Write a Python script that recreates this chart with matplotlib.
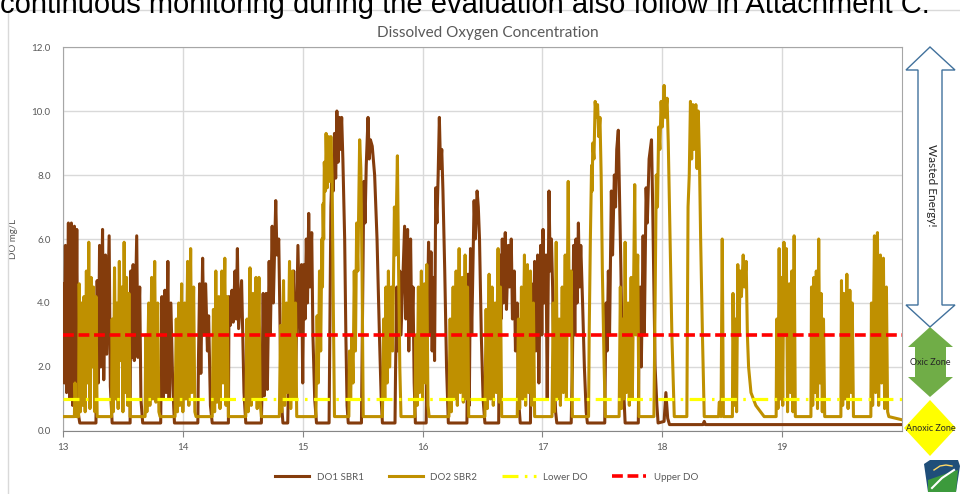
import matplotlib.pyplot as plt
from matplotlib.patches import Polygon

# ---- values ----
days = [13, 14, 15, 16, 17, 18, 19]
y_ticks = [0, 2, 4, 6, 8, 10, 12]
lower_do = 1.0
upper_do = 3.0
series_names = ['DO1 SBR1', 'DO2 SBR2', 'Lower DO', 'Upper DO']

# (day, DO mg/L)
do1_sbr1 = [
    (13.000, 4.6), (13.010, 1.5), (13.020, 5.8), (13.030, 1.2), (13.045, 6.5), (13.055, 1.0),
    (13.070, 6.5), (13.080, 0.8), (13.095, 6.4), (13.105, 1.2), (13.115, 6.3), (13.125, 0.6),
    (13.140, 0.25), (13.275, 0.25), (13.285, 4.7), (13.295, 1.5), (13.305, 5.8), (13.315, 2.0),
    (13.330, 6.3), (13.340, 1.6), (13.355, 5.5), (13.365, 2.4), (13.385, 6.1), (13.395, 1.4),
    (13.410, 0.25), (13.560, 0.25), (13.565, 5.0), (13.575, 2.3), (13.585, 5.2), (13.595, 2.2),
    (13.615, 6.1), (13.625, 2.3), (13.640, 4.5), (13.650, 1.0), (13.665, 0.25), (13.815, 0.25),
    (13.825, 4.2), (13.835, 1.0), (13.850, 4.4), (13.860, 1.2), (13.875, 5.3), (13.885, 1.0),
    (13.900, 4.0), (13.915, 1.5), (13.930, 0.25),
    (14.125, 0.25), (14.130, 2.2), (14.140, 4.6), (14.150, 1.8), (14.165, 5.4), (14.175, 3.0),
    (14.190, 4.6), (14.205, 2.5), (14.215, 3.6), (14.230, 0.8), (14.245, 0.25), (14.380, 0.25),
    (14.385, 4.2), (14.395, 3.3), (14.410, 4.4), (14.420, 3.4), (14.435, 5.0), (14.445, 3.5),
    (14.455, 5.7), (14.465, 3.2), (14.490, 4.7), (14.510, 1.2), (14.525, 0.25), (14.655, 0.25),
    (14.660, 1.2), (14.670, 4.3), (14.680, 1.1), (14.695, 4.3), (14.705, 1.3), (14.720, 5.3),
    (14.730, 3.0), (14.745, 6.4), (14.755, 4.0), (14.775, 7.2), (14.785, 5.5), (14.800, 6.0),
    (14.810, 3.5), (14.820, 1.0), (14.835, 0.25), (14.875, 0.25), (14.880, 1.2), (14.895, 4.9),
    (14.910, 2.6), (14.925, 5.0), (14.940, 1.4), (14.960, 5.8), (14.975, 3.0), (14.990, 5.2),
    (15.000, 1.5), (15.010, 5.2), (15.020, 3.5), (15.030, 6.0), (15.040, 4.0), (15.050, 6.8),
    (15.060, 4.5), (15.075, 6.2), (15.085, 3.0), (15.100, 1.0), (15.115, 0.25),
    (15.220, 0.25), (15.235, 7.0), (15.245, 8.3), (15.255, 7.5), (15.265, 9.3), (15.275, 7.9),
    (15.285, 10.0), (15.295, 8.4), (15.305, 9.8), (15.315, 8.8), (15.325, 9.8), (15.335, 8.5),
    (15.350, 6.0), (15.360, 3.0), (15.370, 0.8), (15.380, 0.25), (15.490, 0.25), (15.500, 4.0),
    (15.510, 7.8), (15.520, 6.5), (15.530, 8.3), (15.545, 9.8), (15.555, 8.5), (15.565, 9.1),
    (15.580, 8.9), (15.600, 8.0), (15.620, 6.0), (15.640, 3.0), (15.655, 1.0), (15.665, 0.25),
    (15.770, 0.25), (15.775, 2.0), (15.785, 4.5), (15.795, 2.5), (15.810, 5.0), (15.820, 3.0),
    (15.850, 6.4), (15.860, 3.5), (15.875, 6.3), (15.885, 2.5), (15.900, 6.0), (15.910, 3.0),
    (15.920, 4.5), (15.930, 1.5), (15.940, 0.25),
    (16.030, 0.25), (16.040, 3.5), (16.050, 5.9), (16.060, 3.0), (16.070, 5.6), (16.080, 2.5),
    (16.090, 4.8), (16.100, 2.2), (16.110, 7.6), (16.120, 6.5), (16.130, 8.0), (16.140, 9.8),
    (16.150, 8.2), (16.160, 8.8), (16.170, 7.5), (16.185, 5.0), (16.200, 2.0), (16.215, 0.25),
    (16.370, 0.25), (16.380, 4.9), (16.390, 0.8), (16.400, 5.7), (16.410, 3.0), (16.430, 7.2),
    (16.440, 6.0), (16.455, 7.5), (16.465, 7.0), (16.475, 6.0), (16.490, 3.0), (16.505, 1.0),
    (16.520, 0.25), (16.635, 0.25), (16.645, 5.5), (16.655, 3.5), (16.665, 6.0), (16.675, 4.0),
    (16.690, 6.2), (16.700, 3.8), (16.715, 5.8), (16.725, 4.5), (16.740, 6.0), (16.750, 3.5),
    (16.765, 5.0), (16.775, 2.5), (16.790, 4.0), (16.800, 1.0), (16.815, 0.25), (16.900, 0.25),
    (16.910, 4.6), (16.920, 1.3), (16.935, 5.3), (16.945, 2.5), (16.960, 5.5), (16.970, 1.5),
    (16.985, 5.8), (16.995, 3.0), (17.005, 6.3), (17.015, 4.0), (17.030, 5.5), (17.040, 1.0),
    (17.055, 7.5), (17.065, 5.0), (17.075, 6.0), (17.085, 4.5), (17.095, 2.0), (17.110, 0.6),
    (17.120, 0.25),
    (17.240, 0.25), (17.250, 2.0), (17.260, 5.8), (17.270, 3.0), (17.280, 6.0), (17.290, 4.0),
    (17.300, 6.5), (17.310, 4.5), (17.320, 5.8), (17.335, 4.0), (17.350, 2.0), (17.365, 0.6),
    (17.375, 0.25), (17.520, 0.25), (17.530, 4.0), (17.540, 2.5), (17.550, 5.0), (17.560, 3.0),
    (17.575, 7.5), (17.585, 5.5), (17.600, 8.0), (17.610, 7.0), (17.620, 8.8), (17.633, 9.4),
    (17.645, 7.0), (17.655, 5.0), (17.665, 2.5), (17.675, 1.5), (17.690, 0.25), (17.800, 0.25),
    (17.805, 2.5), (17.815, 4.5), (17.825, 2.0), (17.840, 6.1), (17.850, 3.0), (17.865, 7.6),
    (17.875, 6.5), (17.890, 8.5), (17.910, 9.1), (17.920, 7.0), (17.930, 4.5), (17.940, 2.0),
    (17.955, 0.8), (17.965, 0.25),
    (18.015, 0.3), (18.030, 1.2), (18.045, 0.4), (18.060, 0.2), (18.340, 0.2), (18.350, 0.3),
    (18.360, 0.2), (20.000, 0.2),
]

do2_sbr2 = [
    (13.000, 0.45), (13.095, 0.45), (13.100, 1.5), (13.110, 0.45),
    (13.130, 0.45), (13.135, 4.6), (13.145, 0.6), (13.155, 4.0), (13.165, 0.8), (13.175, 4.2),
    (13.185, 0.6), (13.195, 5.0), (13.205, 1.5), (13.215, 5.9), (13.225, 0.7), (13.235, 4.8),
    (13.245, 2.0), (13.255, 4.5), (13.265, 0.6), (13.275, 4.2), (13.285, 0.45),
    (13.405, 0.45), (13.410, 3.5), (13.420, 0.6), (13.430, 5.1), (13.440, 1.0), (13.450, 4.0),
    (13.460, 0.7), (13.470, 5.3), (13.480, 2.2), (13.490, 4.5), (13.500, 0.6), (13.510, 5.9),
    (13.520, 1.2), (13.530, 4.8), (13.540, 0.8), (13.550, 4.3), (13.560, 0.45),
    (13.685, 0.45), (13.690, 3.0), (13.700, 0.6), (13.715, 4.0), (13.725, 0.8), (13.740, 4.8),
    (13.750, 1.0), (13.765, 5.3), (13.775, 0.9), (13.790, 4.0), (13.800, 0.6), (13.810, 0.45),
    (13.935, 0.45), (13.945, 3.5), (13.955, 0.6), (13.965, 4.0), (13.975, 0.8), (13.990, 4.6),
    (14.000, 0.6), (14.015, 4.0), (14.025, 1.0), (14.040, 5.3), (14.050, 0.8), (14.065, 5.7),
    (14.075, 1.2), (14.090, 4.5), (14.100, 0.6), (14.110, 0.45),
    (14.245, 0.45), (14.255, 3.8), (14.265, 0.6), (14.275, 5.0), (14.285, 0.9), (14.300, 4.2),
    (14.310, 0.7), (14.325, 5.0), (14.335, 1.5), (14.350, 5.4), (14.360, 0.8), (14.370, 4.2),
    (14.380, 0.45), (14.525, 0.45), (14.535, 3.5), (14.545, 0.6), (14.560, 5.1), (14.570, 0.8),
    (14.585, 4.3), (14.595, 1.0), (14.610, 4.8), (14.620, 0.7), (14.635, 4.8), (14.645, 0.9),
    (14.655, 0.45), (14.805, 0.45), (14.815, 3.3), (14.825, 0.6), (14.840, 4.7), (14.850, 0.8),
    (14.865, 4.0), (14.875, 1.2), (14.890, 5.3), (14.900, 0.7), (14.915, 5.0), (14.925, 1.0),
    (14.940, 4.0), (14.950, 0.45),
    (15.110, 0.45), (15.120, 3.6), (15.130, 1.5), (15.140, 5.0), (15.150, 2.5), (15.160, 6.0),
    (15.165, 4.5), (15.170, 7.1), (15.175, 6.0), (15.180, 8.4), (15.190, 7.5), (15.195, 9.3),
    (15.205, 7.6), (15.215, 9.2), (15.225, 7.8), (15.235, 9.2), (15.245, 8.0), (15.255, 4.0),
    (15.265, 0.45), (15.385, 0.45), (15.390, 2.5), (15.400, 1.0), (15.410, 3.0), (15.420, 1.5),
    (15.430, 5.0), (15.440, 2.5), (15.450, 6.5), (15.460, 5.0), (15.475, 9.1), (15.485, 8.2),
    (15.495, 5.0), (15.505, 0.45), (15.665, 0.45), (15.675, 3.5), (15.685, 1.0), (15.695, 4.5),
    (15.705, 1.5), (15.715, 5.0), (15.725, 2.0), (15.740, 4.5), (15.750, 2.5), (15.765, 7.0),
    (15.775, 5.5), (15.790, 8.6), (15.800, 5.0), (15.810, 2.0), (15.820, 0.45),
    (15.935, 0.45), (15.945, 3.0), (15.955, 0.8), (15.965, 4.5), (15.975, 1.2), (15.990, 5.0),
    (16.000, 1.0), (16.015, 4.6), (16.025, 1.5), (16.035, 5.2), (16.045, 0.8), (16.055, 0.45),
    (16.220, 0.45), (16.230, 3.5), (16.240, 0.6), (16.255, 4.5), (16.265, 1.0), (16.280, 5.0),
    (16.290, 0.8), (16.305, 5.7), (16.315, 1.2), (16.330, 4.8), (16.340, 0.9), (16.355, 5.5),
    (16.365, 1.0), (16.375, 4.5), (16.385, 0.45), (16.520, 0.45), (16.530, 3.8), (16.540, 0.7),
    (16.555, 4.9), (16.565, 1.0), (16.580, 4.5), (16.590, 0.8), (16.605, 4.0), (16.615, 1.2),
    (16.630, 5.7), (16.640, 0.9), (16.650, 4.5), (16.660, 0.45), (16.790, 0.45), (16.800, 3.5),
    (16.810, 0.7), (16.825, 4.5), (16.835, 1.0), (16.850, 5.5), (16.860, 0.8), (16.875, 5.2),
    (16.885, 1.2), (16.900, 5.0), (16.910, 0.8), (16.925, 4.0), (16.935, 0.45),
    (17.080, 0.45), (17.090, 4.0), (17.100, 0.6), (17.115, 5.9), (17.125, 1.0), (17.140, 3.5),
    (17.150, 0.8), (17.165, 4.5), (17.175, 1.2), (17.190, 5.5), (17.200, 1.0), (17.215, 7.8),
    (17.225, 3.0), (17.240, 5.0), (17.250, 0.45), (17.385, 0.45), (17.390, 3.0), (17.400, 6.0),
    (17.410, 8.3), (17.415, 7.5), (17.420, 9.0), (17.430, 8.5), (17.440, 10.3), (17.450, 9.8),
    (17.460, 10.2), (17.470, 9.2), (17.480, 9.8), (17.490, 8.0), (17.500, 5.0), (17.515, 2.0),
    (17.525, 0.45), (17.640, 0.45), (17.650, 4.5), (17.660, 0.7), (17.670, 3.5), (17.680, 1.0),
    (17.690, 5.9), (17.700, 1.2), (17.715, 4.0), (17.725, 0.8), (17.740, 4.8), (17.750, 1.0),
    (17.770, 7.7), (17.780, 3.0), (17.795, 5.5), (17.805, 0.45), (17.930, 0.45), (17.940, 4.0),
    (17.950, 8.0), (17.960, 7.0), (17.970, 9.5), (17.980, 8.8), (17.990, 10.3), (18.000, 9.5),
    (18.015, 10.8), (18.025, 9.8), (18.040, 10.4), (18.050, 9.0), (18.065, 6.0), (18.080, 3.0),
    (18.100, 0.45),
    (18.205, 0.45), (18.215, 7.0), (18.225, 8.0), (18.235, 10.3), (18.245, 8.5), (18.255, 10.2),
    (18.265, 8.8), (18.280, 10.2), (18.290, 8.2), (18.300, 10.0), (18.310, 8.5), (18.320, 6.0),
    (18.335, 3.0), (18.350, 0.45), (18.470, 0.45), (18.475, 0.9), (18.485, 0.9), (18.490, 0.45),
    (18.500, 6.0), (18.510, 0.45), (18.585, 0.45), (18.590, 4.3), (18.600, 0.8), (18.610, 3.5),
    (18.620, 0.6), (18.630, 5.2), (18.640, 3.0), (18.650, 5.0), (18.660, 4.2), (18.675, 5.5),
    (18.685, 4.5), (18.700, 5.3), (18.710, 3.0), (18.720, 2.0), (18.740, 1.2), (18.780, 0.8),
    (18.850, 0.45), (18.950, 0.45), (18.955, 3.5), (18.965, 0.7), (18.975, 5.7), (18.985, 1.0),
    (18.995, 4.8), (19.005, 0.8), (19.015, 5.9), (19.025, 3.0), (19.035, 5.7), (19.045, 0.6),
    (19.060, 4.6), (19.070, 1.2), (19.080, 5.0), (19.090, 0.6), (19.100, 6.1), (19.105, 3.5),
    (19.110, 0.45),
    (19.240, 0.45), (19.245, 4.5), (19.255, 0.8), (19.265, 4.8), (19.275, 1.2), (19.285, 5.0),
    (19.295, 0.7), (19.305, 6.0), (19.315, 1.5), (19.325, 4.3), (19.335, 0.6), (19.345, 3.5),
    (19.355, 0.45), (19.490, 0.45), (19.495, 4.7), (19.505, 0.8), (19.515, 4.3), (19.525, 1.0),
    (19.540, 4.9), (19.550, 0.7), (19.565, 4.4), (19.575, 1.2), (19.585, 4.0), (19.595, 0.45),
    (19.740, 0.45), (19.745, 4.0), (19.755, 0.8), (19.770, 6.1), (19.780, 1.2), (19.795, 6.2),
    (19.805, 0.8), (19.820, 5.5), (19.830, 1.5), (19.845, 5.4), (19.855, 0.7), (19.870, 4.5),
    (19.880, 0.6), (19.890, 0.45), (20.000, 0.35),
]

W, H = 960, 494
grey = '#595959'

plt.rcParams['font.family'] = ['Lato', 'DejaVu Sans']
fig = plt.figure(figsize=(W / 100, H / 100), dpi=100)

ax = fig.add_axes([63 / W, 1 - 431 / H, (902 - 63) / W, (431 - 47) / H])
t1, v1 = zip(*do1_sbr1)
t2, v2 = zip(*do2_sbr2)
l1, = ax.plot(t1, v1, color='#843C0C', lw=2.2, zorder=3)
l2, = ax.plot(t2, v2, color='#BF9000', lw=2.2, zorder=4)
l3 = ax.axhline(lower_do, color='#FFFF00', lw=2.3, dashes=(5, 2, 0.8, 2), zorder=5)
l4 = ax.axhline(upper_do, color='#FF0000', lw=2.6, dashes=(3, 1.3), zorder=6)

ax.set_xlim(13, 20)
ax.set_ylim(0, 12)
ax.set_xticks(days)
ax.set_xticklabels([str(d) for d in days])
ax.set_yticks(y_ticks)
ax.set_yticklabels([f'{y:.1f}' for y in y_ticks])
ax.grid(True, color='#d9d9d9', lw=1)
ax.set_axisbelow(True)
ax.tick_params(axis='y', length=0, pad=9, labelsize=7, labelcolor=grey)
ax.tick_params(axis='x', length=4, pad=5, labelsize=7, labelcolor=grey, color='#868686')
for side in ['top', 'right', 'left']:
    ax.spines[side].set_color('#a6a6a6')
ax.spines['bottom'].set_color('#868686')
ax.set_ylabel('DO mg/L', fontsize=7, color=grey)
ax.yaxis.set_label_coords((18 - 63) / 839, 0.5)

fig.text(488 / W, 1 - 33 / H, 'Dissolved Oxygen Concentration', ha='center', va='center',
         fontsize=11, color=grey)
fig.legend([l1, l2, l3, l4], series_names, loc='center', bbox_to_anchor=(487 / W, 1 - 477 / H),
           ncol=4, frameon=False, fontsize=7, handlelength=3.5, columnspacing=2.5,
           labelcolor=grey)

# overlay in pixel coordinates for page text, frame and the zone shapes
ov = fig.add_axes([0, 0, 1, 1], zorder=10)
ov.set_xlim(0, W)
ov.set_ylim(H, 0)
ov.axis('off')
ov.patch.set_alpha(0)

# line of the surrounding document, cut by the top edge as in the source
ov.text(0, 13, 'continuous monitoring during the evaluation also follow in Attachment C.',
        fontsize=21, family='Liberation Sans', va='baseline', ha='left', color='black')
ov.plot([8, 8, 965], [500, 10, 10], color='#d9d9d9', lw=1)

wasted = [(930, 47), (955, 70), (942, 70), (942, 305), (955, 305), (930, 327),
          (906, 305), (918, 305), (918, 70), (906, 70)]
ov.add_patch(Polygon(wasted, closed=True, facecolor='white', edgecolor='#41719C', lw=1))
ov.text(931, 185, 'Wasted Energy!', rotation=-90, ha='center', va='center', fontsize=8.5,
        color='#262626')

oxic = [(930, 327), (953, 347), (946, 347), (946, 377), (953, 377), (930, 397),
        (908, 377), (915, 377), (915, 347), (908, 347)]
ov.add_patch(Polygon(oxic, closed=True, facecolor='#70AD47', edgecolor='none'))
ov.text(930, 362, 'Oxic Zone', ha='center', va='center', fontsize=6.5, color='#262626')

anoxic = [(930, 400), (956, 428), (930, 456), (904, 428)]
ov.add_patch(Polygon(anoxic, closed=True, facecolor='#FFFF00', edgecolor='none'))
ov.text(931, 428, 'Anoxic Zone', ha='center', va='center', fontsize=6.5, color='#262626')

# small keystone logo
keystone = [(924, 464), (930, 460), (958, 460), (960, 466), (956, 492), (928, 492)]
ov.add_patch(Polygon(keystone, closed=True, facecolor='#1F4E79', edgecolor='none'))
ov.add_patch(Polygon([(928, 480), (945, 474), (958, 470), (956, 492), (928, 492)], closed=True,
                     facecolor='#3C9A3C', edgecolor='none'))
ov.plot([932, 942, 954], [488, 478, 470], color='white', lw=1.5)
ov.plot([934, 940, 946, 952], [470, 466, 465, 466], color='#FFD966', lw=1)

fig.savefig('out.png', dpi=100)
